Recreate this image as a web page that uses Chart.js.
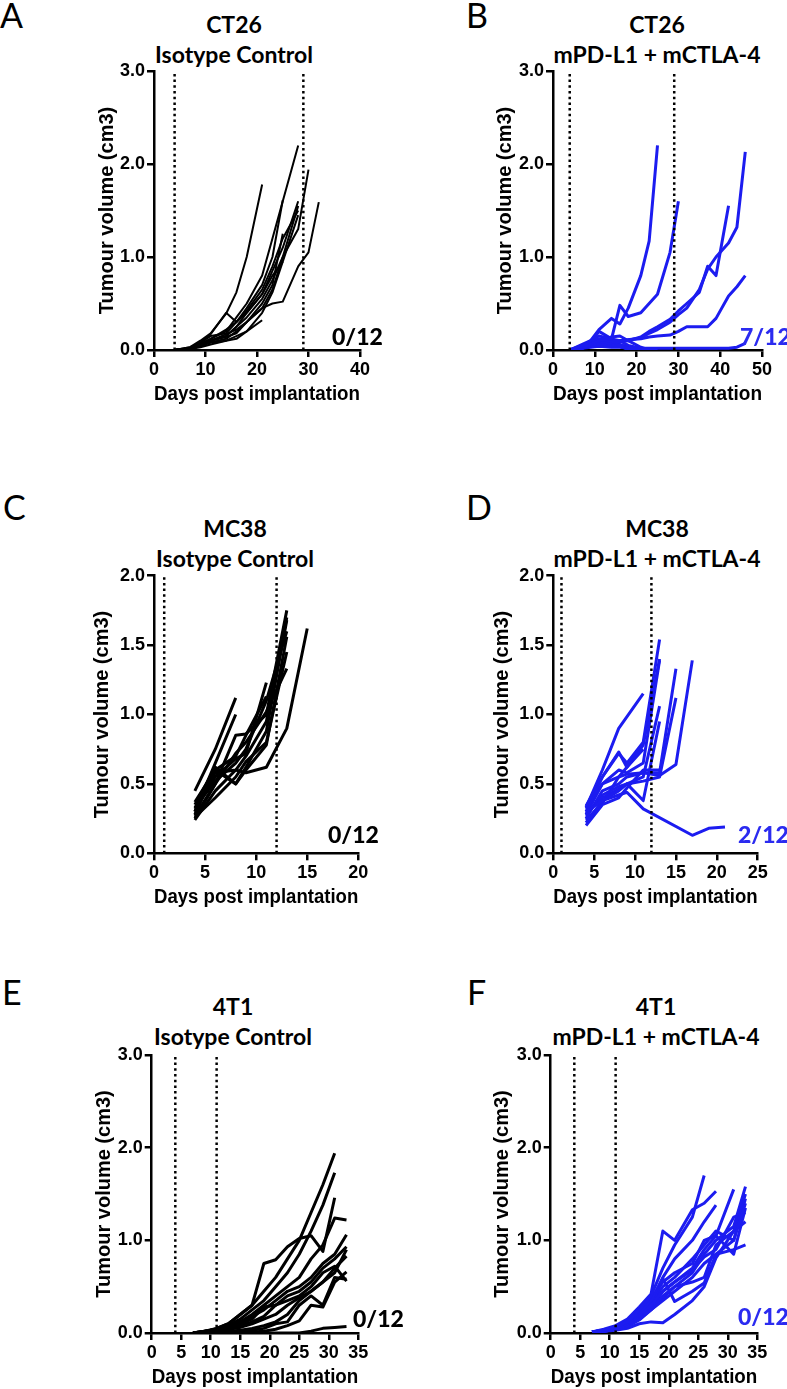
<!DOCTYPE html>
<html lang="en">
<head>
<meta charset="UTF-8">
<title>Tumour growth - isotype vs mPD-L1 + mCTLA-4</title>
<script src="https://cdn.jsdelivr.net/npm/chart.js"></script>
<style>
  body { margin: 0; background: #fff; width: 787px; height: 1389px; position: relative; overflow: hidden; }
  canvas { position: absolute; }
  .letter { position: absolute; font-family: Lato, sans-serif; font-size: 34px; line-height: 34px; color: #000; }
  .title { position: absolute; width: 240px; text-align: center; font-family: Lato, sans-serif; font-weight: 700; font-size: 23px; line-height: 30px; color: #000; white-space: nowrap; }
  .count { position: absolute; font-family: Lato, sans-serif; font-weight: 900; font-size: 23px; line-height: 23px; white-space: nowrap; }
  .blue { color: #2b2bf0; }
</style>
</head>
<body>

<div class="letter" style="left:0px; top:-2px;">A</div>
<div class="letter" style="left:466px; top:-2px;">B</div>
<div class="letter" style="left:3px; top:490px;">C</div>
<div class="letter" style="left:466px; top:490px;">D</div>
<div class="letter" style="left:2px; top:975px;">E</div>
<div class="letter" style="left:467px; top:975px;">F</div>

<div class="title" style="left:114px; top:9px;">CT26<br>Isotype Control</div>
<div class="title" style="left:537px; top:9px;">CT26<br>mPD-L1 + mCTLA-4</div>
<div class="title" style="left:115px; top:513px;">MC38<br>Isotype Control</div>
<div class="title" style="left:537px; top:513px;">MC38<br>mPD-L1 + mCTLA-4</div>
<div class="title" style="left:113px; top:991px;">4T1<br>Isotype Control</div>
<div class="title" style="left:536px; top:991px;">4T1<br>mPD-L1 + mCTLA-4</div>

<canvas id="chartA" width="393" height="420" style="left:0px; top:0px;"></canvas>
<canvas id="chartB" width="394" height="420" style="left:393px; top:0px;"></canvas>
<canvas id="chartC" width="393" height="445" style="left:0px; top:480px;"></canvas>
<canvas id="chartD" width="394" height="445" style="left:393px; top:480px;"></canvas>
<canvas id="chartE" width="393" height="429" style="left:0px; top:960px;"></canvas>
<canvas id="chartF" width="394" height="429" style="left:393px; top:960px;"></canvas>

<div class="count" style="left:332px; top:325px;">0/12</div>
<div class="count blue" style="left:740px; top:325px;">7/12</div>
<div class="count" style="left:328px; top:823px;">0/12</div>
<div class="count blue" style="left:738px; top:823px;">2/12</div>
<div class="count" style="left:353px; top:1307px;">0/12</div>
<div class="count blue" style="left:738px; top:1305px;">0/12</div>

<script>
    // CT26, isotype control (cm3 per measurement day)
    const ct26IsoDays = [4, 7, 9, 11, 14, 16, 18, 21, 23, 25, 28, 30, 32];
    const ct26IsoMice = [
        [0, 0.03, 0.10, 0.18, 0.39, 0.62, 1.00, 1.78],
        [0, 0.02, 0.06, 0.12, 0.20, 0.35, 0.50, 0.80, 1.20, 1.60, 2.20],
        [0, 0.02, 0.05, 0.10, 0.15, 0.25, 0.35, 0.55, 0.75, 1.00, 1.30, 1.94],
        [0, 0.01, 0.04, 0.08, 0.12, 0.20, 0.30, 0.45, 0.50, 0.52, 0.90, 1.05, 1.59],
        [0, 0.02, 0.08, 0.15, 0.18, 0.30, 0.45, 0.70, 1.00, 1.61],
        [0, 0.02, 0.06, 0.10, 0.15, 0.25, 0.40, 0.60, 0.85, 1.10, 1.60],
        [0, 0.03, 0.08, 0.17, 0.40, 0.30, 0.42, 0.65, 0.90, 1.20, 1.50],
        [0, 0.01, 0.05, 0.08, 0.10, 0.15, 0.20, 0.32],
        [0, 0.02, 0.07, 0.12, 0.22, 0.30, 0.40, 0.60, 0.80, 0.95, 1.45],
        [0, 0.02, 0.06, 0.10, 0.14, 0.18, 0.30, 0.45, 0.65, 1.00, 1.55],
        [0, 0.01, 0.03, 0.06, 0.10, 0.12, 0.20, 0.40, 0.62, 0.95],
        [0, 0.02, 0.05, 0.10, 0.17, 0.22, 0.30, 0.50, 0.70, 1.25]
    ];

    // CT26, mPD-L1 + mCTLA-4
    const ct26ComboDays = [4, 7, 9, 11, 14, 16, 18, 21, 23, 25, 28, 30, 32, 35, 37, 39, 42, 44, 46];
    const ct26ComboMice = [
        [0, 0.04, 0.10, 0.22, 0.34, 0.28, 0.45, 0.80, 1.17, 2.20],
        [0, 0.03, 0.06, 0.10, 0.12, 0.48, 0.36, 0.40, 0.50, 0.60, 1.05, 1.60],
        [0, 0.02, 0.05, 0.08, 0.10, 0.10, 0.11, 0.13, 0.18, 0.22, 0.30, 0.38, 0.45, 0.65, 0.87, 1.00, 1.15, 1.32, 2.13],
        [0, 0.02, 0.04, 0.06, 0.08, 0.09, 0.10, 0.14, 0.20, 0.25, 0.33, 0.42, 0.50, 0.62, 0.90, 0.80, 1.55],
        [0, 0.02, 0.04, 0.07, 0.09, 0.10, 0.11, 0.12, 0.14, 0.15, 0.16, 0.20, 0.25, 0.25, 0.25, 0.34, 0.58, 0.68, 0.80],
        [0, 0.02, 0.03, 0.04, 0.03, 0.03, 0.02, 0.02, 0.02, 0.02, 0.02, 0.02, 0.02, 0.02, 0.02, 0.02, 0.02, 0.03, 0.07],
        [0, 0.05, 0.08, 0.12, 0.10, 0.05, 0.02, 0],
        [0, 0.06, 0.10, 0.15, 0.12, 0.10, 0.05, 0.02, 0],
        [0, 0.03, 0.07, 0.09, 0.14, 0.15, 0.10, 0.03, 0],
        [0, 0.04, 0.06, 0.05, 0.06, 0.04, 0.02, 0],
        [0, 0.02, 0.05, 0.10, 0.08, 0.06, 0.03, 0.02, 0.01, 0],
        [0, 0.03, 0.08, 0.20, 0.12, 0.05, 0]
    ];

    // MC38, isotype control
    const mc38IsoDays = [4, 6, 8, 9, 11, 13, 15];
    const mc38IsoMice = [
        [0.45, 0.75, 1.12],
        [0.30, 0.65, 1.00],
        [0.25, 0.50, 0.85, 0.86, 1.00, 1.75],
        [0.28, 0.60, 0.50, 0.62, 0.88, 1.68],
        [0.32, 0.55, 0.68, 0.72, 1.23],
        [0.24, 0.45, 0.60, 0.58, 0.62, 0.90, 1.62],
        [0.35, 0.62, 0.50, 0.60, 0.78, 1.56],
        [0.27, 0.50, 0.72, 0.80, 1.02, 1.33],
        [0.30, 0.58, 0.60, 0.70, 0.95, 1.70],
        [0.33, 0.52, 0.65, 0.75, 1.10, 1.60],
        [0.26, 0.40, 0.55, 0.66, 0.80, 1.45],
        [0.37, 0.60, 0.70, 0.85, 1.13]
    ];

    // MC38, mPD-L1 + mCTLA-4 (null = not measured that day)
    const mc38ComboDays = [4, 6, 8, 9, 11, 13, 15, 17, 19, 21];
    const mc38ComboMice = [
        [0.30, 0.38, 0.42, 0.44, 0.32, null, null, 0.13, 0.18, 0.19],
        [0.33, 0.60, 0.90, null, 1.15],
        [0.30, 0.55, 0.72, 0.65, 0.80, 1.54],
        [0.28, 0.50, 0.60, 0.58, 0.65, 1.39],
        [0.25, 0.45, 0.50, 0.55, 0.58, 0.58, 1.33],
        [0.27, 0.42, 0.48, 0.50, 0.52, 0.55, 1.12],
        [0.32, 0.50, 0.55, 0.57, 0.58, 0.56, 0.64, 1.39],
        [0.22, 0.38, 0.45, 0.50, 0.55, 1.06],
        [0.20, 0.35, 0.40, 0.47, 0.60, 0.60],
        [0.34, 0.55, 0.73, 0.62, 0.78, 1.40],
        [0.29, 0.40, 0.46, 0.50, 0.38, 0.95],
        [0.24, 0.36, 0.55, 0.62, 0.75]
    ];

    // 4T1, isotype control
    const t4IsoDays = [7, 9, 11, 13, 15, 17, 19, 21, 23, 25, 27, 29, 31, 33];
    const t4IsoMice = [
        [0, 0.02, 0.05, 0.10, 0.20, 0.30, 0.45, 0.60, 0.80, 1.00, 1.30, 1.60, 1.94],
        [0, 0.02, 0.04, 0.08, 0.15, 0.25, 0.35, 0.50, 0.65, 0.85, 1.10, 1.38, 1.73],
        [0, 0.01, 0.05, 0.10, 0.20, 0.30, 0.75, 0.79, 0.93, 1.02, 1.05, 0.88, 1.46],
        [0, 0.02, 0.04, 0.08, 0.12, 0.20, 0.30, 0.40, 0.50, 0.60, 0.80, 0.95, 1.24, 1.22],
        [0, 0.01, 0.03, 0.06, 0.10, 0.18, 0.25, 0.35, 0.45, 0.50, 0.60, 0.75, 0.85, 1.06],
        [0, 0.01, 0.02, 0.05, 0.10, 0.15, 0.28, 0.30, 0.40, 0.45, 0.55, 0.70, 0.80, 0.93],
        [0, 0.02, 0.03, 0.05, 0.08, 0.12, 0.18, 0.30, 0.35, 0.40, 0.50, 0.65, 0.72, 0.56],
        [0, 0.01, 0.02, 0.04, 0.06, 0.10, 0.15, 0.20, 0.30, 0.38, 0.45, 0.55, 0.70, 0.83],
        [0, 0, 0.01, 0.02, 0.03, 0.05, 0.08, 0.12, 0.20, 0.35, 0.45, 0.55, 0.65, 0.90],
        [0, 0, 0.01, 0.01, 0.02, 0.03, 0.05, 0.10, 0.12, 0.30, 0.40, 0.30, 0.60, 0.58],
        [0, 0, 0, 0, 0.01, 0.01, 0.02, 0.04, 0.08, 0.13, 0.30, 0.28, 0.55, 0.66],
        [0, 0, 0, 0, 0, 0, 0, 0, 0, 0, 0.02, 0.05, 0.06, 0.07]
    ];

    // 4T1, mPD-L1 + mCTLA-4
    const t4ComboDays = [7, 9, 11, 13, 15, 17, 19, 21, 24, 26, 28, 31, 33];
    const t4ComboMice = [
        [0.01, 0.03, 0.07, 0.12, 0.25, 0.40, 0.70, 0.95, 1.25, 1.70],
        [0.01, 0.04, 0.08, 0.15, 0.28, 0.42, 1.10, 1.00, 1.33, 1.40, 1.53],
        [0.01, 0.03, 0.06, 0.12, 0.22, 0.35, 0.60, 0.80, 1.00, 1.20, 1.38],
        [0.01, 0.02, 0.05, 0.10, 0.20, 0.30, 0.45, 0.55, 0.70, 0.90, 1.05, 1.55],
        [0.01, 0.02, 0.05, 0.08, 0.18, 0.28, 0.40, 0.50, 0.65, 0.85, 1.00, 1.15, 1.58],
        [0.01, 0.02, 0.04, 0.07, 0.15, 0.25, 0.35, 0.45, 0.60, 0.75, 0.85, 0.90, 0.95],
        [0.01, 0.02, 0.04, 0.08, 0.17, 0.30, 0.59, 0.34, 0.45, 0.54, 0.85, 1.00, 1.40],
        [0.01, 0.02, 0.03, 0.05, 0.10, 0.12, 0.11, 0.20, 0.35, 0.50, 0.81, 1.10, 1.50],
        [0.01, 0.03, 0.06, 0.10, 0.20, 0.32, 0.50, 0.60, 0.80, 0.95, 1.10, 1.00, 1.45],
        [0.01, 0.02, 0.05, 0.09, 0.18, 0.28, 0.45, 0.55, 0.68, 0.82, 0.90, 1.25, 1.30],
        [0.01, 0.02, 0.04, 0.07, 0.14, 0.25, 0.38, 0.50, 0.55, 0.60, 0.95, 1.10, 1.20],
        [0.01, 0.03, 0.07, 0.13, 0.24, 0.36, 0.55, 0.65, 0.75, 1.00, 1.05, 0.85, 1.35]
    ];

    // treatment days (dotted lines)
    const ct26DoseDays = [4, 29];
    const mc38DoseDays = [1, 12];
    const t4DoseDays = [4, 11];

    const BLACK = '#000000';
    const BLUE = '#1c1cf0';

    function makePanel(id, days, mice, doseDays, opts) {
        const datasets = [];
        doseDays.forEach(d => {
            datasets.push({
                data: [{ x: d, y: 0 }, { x: d, y: opts.yMax }],
                borderColor: BLACK,
                borderWidth: 2.5,
                borderDash: [2.5, 3.2],
                pointRadius: 0
            });
        });
        mice.forEach(vals => {
            const pts = days.map((d, i) => ({ x: d, y: vals[i] }))
                .filter(p => p.y !== null && p.y !== undefined);
            datasets.push({
                data: pts,
                borderColor: opts.color,
                borderWidth: opts.lineWidth,
                borderJoinStyle: 'round',
                pointRadius: 0,
                tension: 0
            });
        });

        const tickFont = { family: 'Liberation Sans', weight: 'bold', size: 18 };
        const titleFont = { family: 'Liberation Sans', weight: 'bold', size: 20 };

        new Chart(document.getElementById(id), {
            type: 'line',
            data: { datasets: datasets },
            options: {
                responsive: false,
                animation: false,
                layout: { padding: opts.pad },
                plugins: { legend: { display: false }, tooltip: { enabled: false } },
                scales: {
                    x: {
                        type: 'linear',
                        min: 0,
                        max: opts.xMax,
                        afterFit: s => { s.height = 56; },
                        ticks: { stepSize: opts.xStep, color: BLACK, font: tickFont, padding: 2, maxRotation: 0 },
                        grid: { drawOnChartArea: false, drawTicks: true, tickLength: 7, color: BLACK, lineWidth: 2.5 },
                        border: { display: true, color: BLACK, width: 2.5 },
                        title: { display: true, text: 'Days post implantation', color: BLACK, font: titleFont, padding: { top: 0, bottom: 0 } }
                    },
                    y: {
                        min: 0,
                        max: opts.yMax,
                        afterFit: s => { s.width = opts.yWidth; },
                        ticks: { stepSize: opts.yStep, color: BLACK, font: tickFont, padding: 2, callback: v => v.toFixed(1) },
                        grid: { drawOnChartArea: false, drawTicks: true, tickLength: 7, color: BLACK, lineWidth: 2.5 },
                        border: { display: true, color: BLACK, width: 2.5 },
                        title: { display: true, text: 'Tumour volume (cm3)', color: BLACK, font: titleFont, padding: { top: 10, bottom: 0 } }
                    }
                }
            }
        });
    }

    makePanel('chartA', ct26IsoDays, ct26IsoMice, ct26DoseDays, {
        color: BLACK, lineWidth: 2, xMax: 40, xStep: 10, yMax: 3, yStep: 1,
        yWidth: 69, pad: { left: 85, right: 33, top: 71, bottom: 14 }
    });
    makePanel('chartB', ct26ComboDays, ct26ComboMice, ct26DoseDays, {
        color: BLUE, lineWidth: 3, xMax: 50, xStep: 10, yMax: 3, yStep: 1,
        yWidth: 70, pad: { left: 90, right: 25, top: 71, bottom: 14 }
    });
    makePanel('chartC', mc38IsoDays, mc38IsoMice, mc38DoseDays, {
        color: BLACK, lineWidth: 3, xMax: 20, xStep: 5, yMax: 2, yStep: 0.5,
        yWidth: 74, pad: { left: 80, right: 34.7, top: 95.7, bottom: 15.7 }
    });
    makePanel('chartD', mc38ComboDays, mc38ComboMice, mc38DoseDays, {
        color: BLUE, lineWidth: 3, xMax: 25, xStep: 5, yMax: 2, yStep: 0.5,
        yWidth: 73.3, pad: { left: 87, right: 29.3, top: 95.7, bottom: 15.7 }
    });
    makePanel('chartE', t4IsoDays, t4IsoMice, t4DoseDays, {
        color: BLACK, lineWidth: 3, xMax: 35, xStep: 5, yMax: 3, yStep: 1,
        yWidth: 69.7, pad: { left: 82, right: 34.7, top: 95, bottom: 0 }
    });
    makePanel('chartF', t4ComboDays, t4ComboMice, t4DoseDays, {
        color: BLUE, lineWidth: 3, xMax: 35, xStep: 5, yMax: 3, yStep: 1,
        yWidth: 70.7, pad: { left: 87, right: 29.7, top: 95, bottom: 0 }
    });
</script>
</body>
</html>
